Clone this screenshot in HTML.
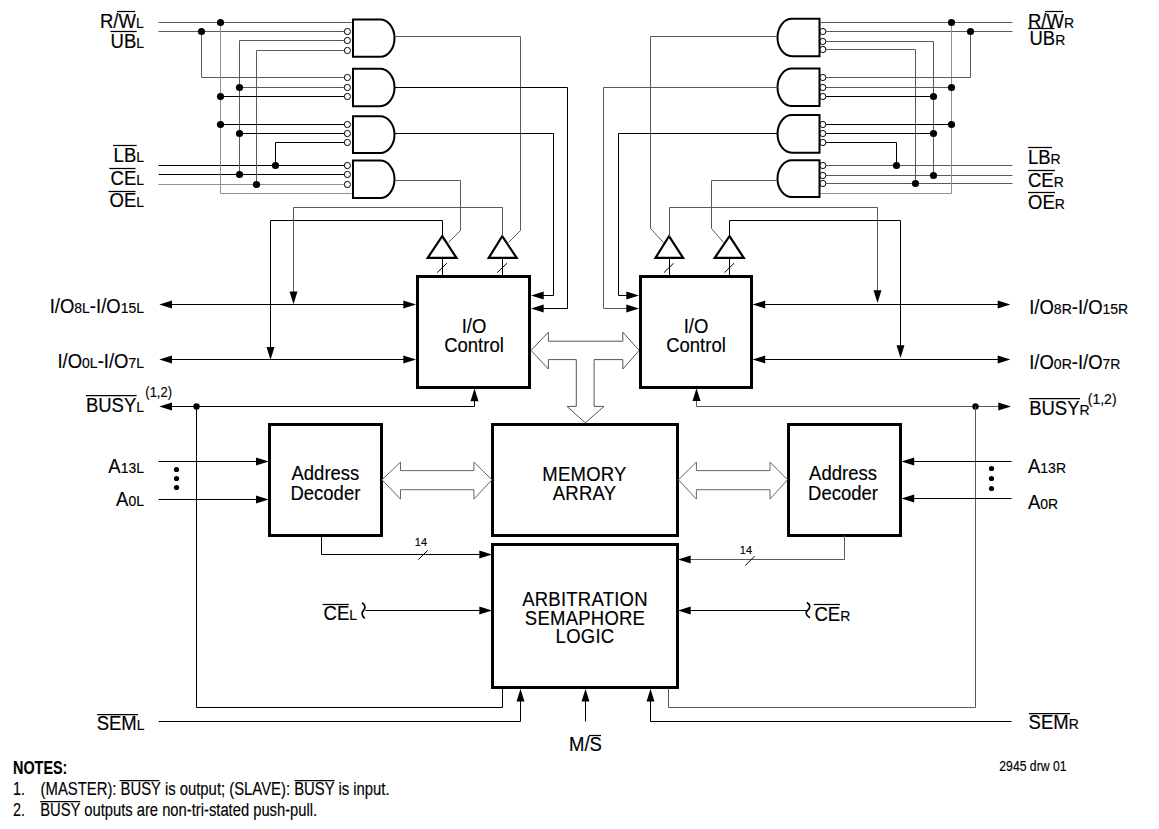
<!DOCTYPE html>
<html><head><meta charset="utf-8"><style>
html,body{margin:0;padding:0;background:#fff;}
svg{display:block;}
text{font-family:"Liberation Sans",sans-serif;fill:#000;stroke:#000;stroke-width:0.15px;}
</style></head><body>
<svg width="1159" height="829" viewBox="0 0 1159 829" stroke="#000" fill="none">
<rect x="0" y="0" width="1159" height="829" fill="#fff" stroke="none"/>
<line x1="158.5" y1="22.5" x2="351.5" y2="22.5" stroke-width="1" stroke="#5a5a5a"/>
<line x1="158.5" y1="31.5" x2="344.5" y2="31.5" stroke-width="1" stroke="#5a5a5a"/>
<line x1="158.5" y1="165.5" x2="344.5" y2="165.5" stroke-width="1"/>
<line x1="158.5" y1="174.5" x2="344.5" y2="174.5" stroke-width="1"/>
<line x1="158.5" y1="184.5" x2="344.5" y2="184.5" stroke-width="1" stroke="#909090"/>
<polyline points="201.5,31.5 201.5,77.5 344.5,77.5" fill="none" stroke-width="1" stroke="#5a5a5a"/>
<polyline points="220.5,22.5 220.5,193.5 351.5,193.5" fill="none" stroke-width="1" stroke="#909090"/>
<polyline points="344.5,40.5 239.5,40.5 239.5,174.5" fill="none" stroke-width="1" stroke="#5a5a5a"/>
<polyline points="344.5,50.5 256.5,50.5 256.5,184.5" fill="none" stroke-width="1" stroke="#5a5a5a"/>
<polyline points="344.5,142.5 275.5,142.5 275.5,165.5" fill="none" stroke-width="1"/>
<line x1="239.5" y1="87.5" x2="344.5" y2="87.5" stroke-width="1" stroke="#5a5a5a"/>
<line x1="220.5" y1="96.5" x2="344.5" y2="96.5" stroke-width="1"/>
<line x1="220.5" y1="124.5" x2="344.5" y2="124.5" stroke-width="1"/>
<line x1="239.5" y1="133.5" x2="344.5" y2="133.5" stroke-width="1"/>
<circle cx="220.5" cy="22.5" r="3.6" fill="#000" stroke="none"/>
<circle cx="201.5" cy="31.5" r="3.6" fill="#000" stroke="none"/>
<circle cx="239.5" cy="87.5" r="3.6" fill="#000" stroke="none"/>
<circle cx="220.5" cy="96.5" r="3.6" fill="#000" stroke="none"/>
<circle cx="220.5" cy="124.5" r="3.6" fill="#000" stroke="none"/>
<circle cx="239.5" cy="133.5" r="3.6" fill="#000" stroke="none"/>
<circle cx="275.5" cy="165.5" r="3.6" fill="#000" stroke="none"/>
<circle cx="239.5" cy="174.5" r="3.6" fill="#000" stroke="none"/>
<circle cx="256.5" cy="184.5" r="3.6" fill="#000" stroke="none"/>
<circle cx="347.4" cy="31.5" r="3.1" fill="#fff" stroke-width="1"/>
<circle cx="347.4" cy="40.5" r="3.1" fill="#fff" stroke-width="1"/>
<circle cx="347.4" cy="50.5" r="3.1" fill="#fff" stroke-width="1"/>
<circle cx="347.4" cy="77.5" r="3.1" fill="#fff" stroke-width="1"/>
<circle cx="347.4" cy="87.5" r="3.1" fill="#fff" stroke-width="1"/>
<circle cx="347.4" cy="96.5" r="3.1" fill="#fff" stroke-width="1"/>
<circle cx="347.4" cy="124.5" r="3.1" fill="#fff" stroke-width="1"/>
<circle cx="347.4" cy="133.5" r="3.1" fill="#fff" stroke-width="1"/>
<circle cx="347.4" cy="142.5" r="3.1" fill="#fff" stroke-width="1"/>
<circle cx="347.4" cy="165.5" r="3.1" fill="#fff" stroke-width="1"/>
<circle cx="347.4" cy="174.5" r="3.1" fill="#fff" stroke-width="1"/>
<circle cx="347.4" cy="184.5" r="3.1" fill="#fff" stroke-width="1"/>
<path d="M353,19.5 H380.1 A14.4,18.65 0 0 1 380.1,56.8 H353 Z" fill="#fff" stroke-width="2"/>
<path d="M353,68.7 H380.1 A14.4,18.75 0 0 1 380.1,106.2 H353 Z" fill="#fff" stroke-width="2"/>
<path d="M353,116.3 H380.1 A14.4,18.35 0 0 1 380.1,153 H353 Z" fill="#fff" stroke-width="2"/>
<path d="M353,160.6 H380.1 A14.4,18.75 0 0 1 380.1,198.1 H353 Z" fill="#fff" stroke-width="2"/>
<polyline points="394.5,36.5 520.5,36.5 520.5,230.5 508.5,242.5" fill="none" stroke-width="1" stroke="#5a5a5a"/>
<polyline points="394.5,87.5 567.5,87.5 567.5,308.5 540.5,308.5" fill="none" stroke-width="1"/>
<polygon points="531.00,308.50 543.70,304.50 543.70,312.50" fill="#000" stroke="none"/>
<polyline points="394.5,133.5 553.5,133.5 553.5,295.5 540.5,295.5" fill="none" stroke-width="1"/>
<polygon points="531.00,295.50 543.70,291.50 543.70,299.50" fill="#000" stroke="none"/>
<polyline points="394.5,180.5 460.5,180.5 460.5,230.5 448.5,242.5" fill="none" stroke-width="1" stroke="#5a5a5a"/>
<polygon points="442.2,236.2 456.5,257.9 427.7,257.9" fill="#fff" stroke-width="2.2"/>
<polygon points="502.2,236.2 516.7,257.9 488.7,257.9" fill="#fff" stroke-width="2.2"/>
<polyline points="442.5,236.5 442.5,220.5 270.5,220.5 270.5,350.5" fill="none" stroke-width="1"/>
<polygon points="270.50,359.70 266.50,347.00 274.50,347.00" fill="#000" stroke="none"/>
<polyline points="502.5,236.5 502.5,207.5 293.5,207.5 293.5,295.5" fill="none" stroke-width="1" stroke="#5a5a5a"/>
<polygon points="293.50,304.30 289.50,291.60 297.50,291.60" fill="#000" stroke="none"/>
<line x1="442.5" y1="258.5" x2="442.5" y2="276.5" stroke-width="1"/>
<line x1="502.5" y1="258.5" x2="502.5" y2="276.5" stroke-width="1"/>
<line x1="437.2" y1="272.6" x2="446.8" y2="263.2" stroke-width="1"/>
<line x1="497.2" y1="272.6" x2="507.1" y2="263.2" stroke-width="1"/>
<rect x="417.5" y="276.5" width="112.0" height="111.0" fill="none" stroke-width="3"/>
<text transform="translate(474,333.4) scale(1,1.075)" x="0" y="0" font-size="18.5" text-anchor="middle"  >I/O</text>
<text transform="translate(474,352) scale(1,1.075)" x="0" y="0" font-size="18.5" text-anchor="middle"  >Control</text>
<line x1="165.5" y1="304.5" x2="410.5" y2="304.5" stroke-width="1"/>
<polygon points="159.30,304.50 172.00,300.50 172.00,308.50" fill="#000" stroke="none"/>
<polygon points="416.00,304.50 403.30,300.50 403.30,308.50" fill="#000" stroke="none"/>
<line x1="165.5" y1="359.5" x2="410.5" y2="359.5" stroke-width="1"/>
<polygon points="159.30,359.50 172.00,355.50 172.00,363.50" fill="#000" stroke="none"/>
<polygon points="416.00,359.50 403.30,355.50 403.30,363.50" fill="#000" stroke="none"/>
<polyline points="165.5,406.5 474.5,406.5 474.5,395.5" fill="none" stroke-width="1"/>
<polygon points="159.30,406.50 172.00,402.50 172.00,410.50" fill="#000" stroke="none"/>
<polygon points="474.50,388.50 470.50,401.20 478.50,401.20" fill="#000" stroke="none"/>
<circle cx="196.5" cy="406.5" r="3.2" fill="#000" stroke="none"/>
<polyline points="196.5,406.5 196.5,707.5 502.5,707.5 502.5,688.5" fill="none" stroke-width="1"/>
<text transform="translate(100,27.8) scale(1,1.075)" x="0" y="0" font-size="18.5" text-anchor="start"  >R/W<tspan font-size="14">L</tspan></text>
<line x1="117" y1="11.5" x2="135.2" y2="11.5" stroke-width="1.25"/>
<text transform="translate(144,47.9) scale(1,1.075)" x="0" y="0" font-size="18.5" text-anchor="end"  >UB<tspan font-size="14">L</tspan></text>
<line x1="110.4" y1="31.5" x2="136.7" y2="31.5" stroke-width="1.25"/>
<text transform="translate(144,161.5) scale(1,1.075)" x="0" y="0" font-size="18.5" text-anchor="end"  >LB<tspan font-size="14">L</tspan></text>
<line x1="113.1" y1="145.5" x2="136.7" y2="145.5" stroke-width="1.25"/>
<text transform="translate(144,184.7) scale(1,1.075)" x="0" y="0" font-size="18.5" text-anchor="end"  >CE<tspan font-size="14">L</tspan></text>
<line x1="109.3" y1="168.5" x2="135.5" y2="168.5" stroke-width="1.25"/>
<text transform="translate(144,207.4) scale(1,1.075)" x="0" y="0" font-size="18.5" text-anchor="end"  >OE<tspan font-size="14">L</tspan></text>
<line x1="108.5" y1="191.5" x2="135.5" y2="191.5" stroke-width="1.25"/>
<text transform="translate(144,312.6) scale(1,1.075)" x="0" y="0" font-size="18.5" text-anchor="end"  >I/O<tspan font-size="14">8L</tspan>-I/O<tspan font-size="14">15L</tspan></text>
<text transform="translate(144,368) scale(1,1.075)" x="0" y="0" font-size="18.5" text-anchor="end"  >I/O<tspan font-size="14">0L</tspan>-I/O<tspan font-size="14">7L</tspan></text>
<text transform="translate(144,411.8) scale(1,1.075)" x="0" y="0" font-size="18.5" text-anchor="end"  >BUSY<tspan font-size="14">L</tspan></text>
<line x1="86" y1="395.5" x2="136.7" y2="395.5" stroke-width="1.25"/>
<text transform="translate(145.3,397) scale(1,1.075)" x="0" y="0" font-size="13" text-anchor="start"  >(1,2)</text>
<polygon points="531,350.4 548.4,332.2 548.4,341.2 622.8,341.2 622.8,332.2 639.2,350.4 622.8,369 622.8,359.6 594.1,359.6 594.1,406.4 604,406.4 585.3,422.8 567,406.4 576.3,406.4 576.3,359.6 548.4,359.6 548.4,369" fill="#fff" stroke-width="1" stroke="#555"/>
<rect x="492.5" y="424.5" width="185.0" height="111.0" fill="none" stroke-width="3"/>
<text transform="translate(584.5,480.6) scale(1,1.075)" x="0" y="0" font-size="18.5" text-anchor="middle" letter-spacing="0.25" >MEMORY</text>
<text transform="translate(584.5,499.7) scale(1,1.075)" x="0" y="0" font-size="18.5" text-anchor="middle" letter-spacing="0.25" >ARRAY</text>
<rect x="492.5" y="544.5" width="185.0" height="143.0" fill="none" stroke-width="3"/>
<text transform="translate(585,605.5) scale(1,1.075)" x="0" y="0" font-size="18.5" text-anchor="middle" letter-spacing="0.25" >ARBITRATION</text>
<text transform="translate(585,624.8) scale(1,1.075)" x="0" y="0" font-size="18.5" text-anchor="middle" letter-spacing="0.25" >SEMAPHORE</text>
<text transform="translate(585,643.3) scale(1,1.075)" x="0" y="0" font-size="18.5" text-anchor="middle" letter-spacing="0.25" >LOGIC</text>
<rect x="269.5" y="424.5" width="112.0" height="111.0" fill="none" stroke-width="3"/>
<text transform="translate(325.4,480.2) scale(1,1.075)" x="0" y="0" font-size="18.5" text-anchor="middle"  >Address</text>
<text transform="translate(325.4,499.5) scale(1,1.075)" x="0" y="0" font-size="18.5" text-anchor="middle"  >Decoder</text>
<rect x="788.5" y="424.5" width="112.0" height="111.0" fill="none" stroke-width="3"/>
<text transform="translate(843,480.2) scale(1,1.075)" x="0" y="0" font-size="18.5" text-anchor="middle"  >Address</text>
<text transform="translate(843,499.5) scale(1,1.075)" x="0" y="0" font-size="18.5" text-anchor="middle"  >Decoder</text>
<polygon points="382,479.8 400.5,462.1 400.5,470.6 473.9,470.6 473.9,462.1 491.9,479.8 473.9,499.1 473.9,489.7 400.5,489.7 400.5,499.1" fill="#fff" stroke-width="1" stroke="#666"/>
<polygon points="678.4,479.8 696.4,462.1 696.4,470.6 770,470.6 770,462.1 787.5,479.8 770,499.1 770,489.7 696.4,489.7 696.4,499.1" fill="#fff" stroke-width="1" stroke="#666"/>
<line x1="158.5" y1="461.5" x2="258.5" y2="461.5" stroke-width="1"/>
<polygon points="268.70,461.50 256.00,457.50 256.00,465.50" fill="#000" stroke="none"/>
<line x1="158.5" y1="499.5" x2="258.5" y2="499.5" stroke-width="1"/>
<polygon points="268.70,499.50 256.00,495.50 256.00,503.50" fill="#000" stroke="none"/>
<circle cx="176.5" cy="469.5" r="2.6" fill="#000" stroke="none"/>
<circle cx="176.5" cy="478.5" r="2.6" fill="#000" stroke="none"/>
<circle cx="176.5" cy="487.5" r="2.6" fill="#000" stroke="none"/>
<text transform="translate(144,472.7) scale(1,1.075)" x="0" y="0" font-size="18.5" text-anchor="end"  >A<tspan font-size="14">13L</tspan></text>
<text transform="translate(144,505.6) scale(1,1.075)" x="0" y="0" font-size="18.5" text-anchor="end"  >A<tspan font-size="14">0L</tspan></text>
<polyline points="321.5,535.5 321.5,554.5 482.5,554.5" fill="none" stroke-width="1"/>
<polygon points="492.00,554.50 479.30,550.50 479.30,558.50" fill="#000" stroke="none"/>
<line x1="418.4" y1="559.6" x2="427.7" y2="550.3" stroke-width="1"/>
<text transform="translate(420.9,545.8) scale(1,1.075)" x="0" y="0" font-size="11" text-anchor="middle"  >14</text>
<line x1="365.5" y1="610.5" x2="482.5" y2="610.5" stroke-width="1"/>
<polygon points="492.00,610.50 479.30,606.50 479.30,614.50" fill="#000" stroke="none"/>
<path d="M362.1,602.8 C365.6,604.8 365.6,608.3 363.7,610.2 C361.5,612.3 361.5,616 364.8,618.2" fill="none" stroke-width="1.7"/>
<text transform="translate(357,620.4) scale(1,1.075)" x="0" y="0" font-size="18.5" text-anchor="end"  >CE<tspan font-size="14">L</tspan></text>
<line x1="322.6" y1="604.5" x2="348.8" y2="604.5" stroke-width="1.25"/>
<polyline points="158.5,721.5 520.5,721.5 520.5,700.5" fill="none" stroke-width="1"/>
<polygon points="520.50,688.70 516.50,701.40 524.50,701.40" fill="#000" stroke="none"/>
<text transform="translate(144.5,730) scale(1,1.075)" x="0" y="0" font-size="18.5" text-anchor="end"  >SEM<tspan font-size="14">L</tspan></text>
<line x1="97" y1="714.5" x2="138" y2="714.5" stroke-width="1.25"/>
<line x1="585.5" y1="721.5" x2="585.5" y2="700.5" stroke-width="1"/>
<polygon points="585.50,688.70 581.50,701.40 589.50,701.40" fill="#000" stroke="none"/>
<text transform="translate(585.5,750.6) scale(1,1.075)" x="0" y="0" font-size="18.5" text-anchor="middle"  >M/S</text>
<line x1="589" y1="735.5" x2="601" y2="735.5" stroke-width="1.25"/>
<line x1="1012.5" y1="22.5" x2="820.5" y2="22.5" stroke-width="1" stroke="#5a5a5a"/>
<line x1="1012.5" y1="31.5" x2="825.5" y2="31.5" stroke-width="1" stroke="#5a5a5a"/>
<line x1="1012.5" y1="165.5" x2="825.5" y2="165.5" stroke-width="1" stroke="#5a5a5a"/>
<line x1="1012.5" y1="175.5" x2="825.5" y2="175.5" stroke-width="1" stroke="#5a5a5a"/>
<line x1="1012.5" y1="183.5" x2="825.5" y2="183.5" stroke-width="1" stroke="#5a5a5a"/>
<polyline points="825.5,41.5 933.5,41.5 933.5,175.5" fill="none" stroke-width="1" stroke="#5a5a5a"/>
<polyline points="825.5,49.5 915.5,49.5 915.5,183.5" fill="none" stroke-width="1" stroke="#5a5a5a"/>
<polyline points="951.5,22.5 951.5,193.5 820.5,193.5" fill="none" stroke-width="1" stroke="#909090"/>
<polyline points="970.5,31.5 970.5,77.5 825.5,77.5" fill="none" stroke-width="1" stroke="#5a5a5a"/>
<polyline points="825.5,142.5 896.5,142.5 896.5,165.5" fill="none" stroke-width="1"/>
<line x1="951.5" y1="87.5" x2="825.5" y2="87.5" stroke-width="1" stroke="#5a5a5a"/>
<line x1="933.5" y1="96.5" x2="825.5" y2="96.5" stroke-width="1"/>
<line x1="951.5" y1="124.5" x2="825.5" y2="124.5" stroke-width="1"/>
<line x1="933.5" y1="133.5" x2="825.5" y2="133.5" stroke-width="1"/>
<circle cx="951.5" cy="22.5" r="3.6" fill="#000" stroke="none"/>
<circle cx="970.5" cy="31.5" r="3.6" fill="#000" stroke="none"/>
<circle cx="951.5" cy="87.5" r="3.6" fill="#000" stroke="none"/>
<circle cx="933.5" cy="96.5" r="3.6" fill="#000" stroke="none"/>
<circle cx="951.5" cy="124.5" r="3.6" fill="#000" stroke="none"/>
<circle cx="933.5" cy="133.5" r="3.6" fill="#000" stroke="none"/>
<circle cx="896.5" cy="165.5" r="3.6" fill="#000" stroke="none"/>
<circle cx="933.5" cy="175.5" r="3.6" fill="#000" stroke="none"/>
<circle cx="915.5" cy="183.5" r="3.6" fill="#000" stroke="none"/>
<circle cx="822.8" cy="31.5" r="3.1" fill="#fff" stroke-width="1"/>
<circle cx="822.8" cy="41.5" r="3.1" fill="#fff" stroke-width="1"/>
<circle cx="822.8" cy="49.5" r="3.1" fill="#fff" stroke-width="1"/>
<circle cx="822.8" cy="77.5" r="3.1" fill="#fff" stroke-width="1"/>
<circle cx="822.8" cy="87.5" r="3.1" fill="#fff" stroke-width="1"/>
<circle cx="822.8" cy="96.5" r="3.1" fill="#fff" stroke-width="1"/>
<circle cx="822.8" cy="124.5" r="3.1" fill="#fff" stroke-width="1"/>
<circle cx="822.8" cy="133.5" r="3.1" fill="#fff" stroke-width="1"/>
<circle cx="822.8" cy="142.5" r="3.1" fill="#fff" stroke-width="1"/>
<circle cx="822.8" cy="165.5" r="3.1" fill="#fff" stroke-width="1"/>
<circle cx="822.8" cy="175.5" r="3.1" fill="#fff" stroke-width="1"/>
<circle cx="822.8" cy="183.5" r="3.1" fill="#fff" stroke-width="1"/>
<path d="M819.5,18.8 H791.9 A14.4,18.700000000000003 0 0 0 791.9,56.2 H819.5 Z" fill="#fff" stroke-width="2"/>
<path d="M819.5,68.6 H791.9 A14.4,18.75 0 0 0 791.9,106.1 H819.5 Z" fill="#fff" stroke-width="2"/>
<path d="M819.5,115 H791.9 A14.4,18.849999999999994 0 0 0 791.9,152.7 H819.5 Z" fill="#fff" stroke-width="2"/>
<path d="M819.5,160.3 H791.9 A14.4,18.349999999999994 0 0 0 791.9,197 H819.5 Z" fill="#fff" stroke-width="2"/>
<polyline points="777.5,36.5 650.5,36.5 650.5,228.5 663.5,242.5" fill="none" stroke-width="1" stroke="#5a5a5a"/>
<polyline points="777.5,87.5 603.5,87.5 603.5,308.5 630.5,308.5" fill="none" stroke-width="1" stroke="#5a5a5a"/>
<polygon points="639.00,308.50 626.30,304.50 626.30,312.50" fill="#000" stroke="none"/>
<polyline points="777.5,133.5 618.5,133.5 618.5,295.5 630.5,295.5" fill="none" stroke-width="1"/>
<polygon points="639.00,295.50 626.30,291.50 626.30,299.50" fill="#000" stroke="none"/>
<polyline points="777.5,180.5 711.5,180.5 711.5,228.5 723.5,242.5" fill="none" stroke-width="1" stroke="#5a5a5a"/>
<polygon points="669,236.2 683.1,257.9 655.5,257.9" fill="#fff" stroke-width="2.2"/>
<polygon points="729.5,236.2 743.8,257.9 714.7,257.9" fill="#fff" stroke-width="2.2"/>
<polyline points="669.5,236.5 669.5,207.5 877.5,207.5 877.5,293.5" fill="none" stroke-width="1" stroke="#5a5a5a"/>
<polygon points="877.50,303.00 873.50,290.30 881.50,290.30" fill="#000" stroke="none"/>
<polyline points="729.5,236.5 729.5,220.5 900.5,220.5 900.5,348.5" fill="none" stroke-width="1"/>
<polygon points="900.50,358.00 896.50,345.30 904.50,345.30" fill="#000" stroke="none"/>
<line x1="669.5" y1="258.5" x2="669.5" y2="276.5" stroke-width="1"/>
<line x1="729.5" y1="258.5" x2="729.5" y2="276.5" stroke-width="1"/>
<line x1="664" y1="272.6" x2="673.6" y2="263.2" stroke-width="1"/>
<line x1="724.5" y1="272.6" x2="734.1" y2="263.2" stroke-width="1"/>
<rect x="640.5" y="276.5" width="111.0" height="111.0" fill="none" stroke-width="3"/>
<text transform="translate(696,333.4) scale(1,1.075)" x="0" y="0" font-size="18.5" text-anchor="middle"  >I/O</text>
<text transform="translate(696,352) scale(1,1.075)" x="0" y="0" font-size="18.5" text-anchor="middle"  >Control</text>
<line x1="762.5" y1="304.5" x2="1000.5" y2="304.5" stroke-width="1"/>
<polygon points="752.50,304.50 765.20,300.50 765.20,308.50" fill="#000" stroke="none"/>
<polygon points="1010.40,304.50 997.70,300.50 997.70,308.50" fill="#000" stroke="none"/>
<line x1="762.5" y1="359.5" x2="1000.5" y2="359.5" stroke-width="1"/>
<polygon points="752.50,359.50 765.20,355.50 765.20,363.50" fill="#000" stroke="none"/>
<polygon points="1010.40,359.50 997.70,355.50 997.70,363.50" fill="#000" stroke="none"/>
<polyline points="696.5,395.5 696.5,406.5 1000.5,406.5" fill="none" stroke-width="1" stroke="#5a5a5a"/>
<polygon points="696.50,388.30 692.50,401.00 700.50,401.00" fill="#000" stroke="none"/>
<polygon points="1011.00,406.50 998.30,402.50 998.30,410.50" fill="#000" stroke="none"/>
<circle cx="975.5" cy="406.5" r="3.2" fill="#000" stroke="none"/>
<polyline points="975.5,406.5 975.5,707.5 668.5,707.5 668.5,688.5" fill="none" stroke-width="1" stroke="#5a5a5a"/>
<line x1="1011.5" y1="461.5" x2="911.5" y2="461.5" stroke-width="1"/>
<polygon points="901.50,461.50 914.20,457.50 914.20,465.50" fill="#000" stroke="none"/>
<line x1="1011.5" y1="498.5" x2="911.5" y2="498.5" stroke-width="1"/>
<polygon points="901.50,498.50 914.20,494.50 914.20,502.50" fill="#000" stroke="none"/>
<circle cx="991.5" cy="468.5" r="2.6" fill="#000" stroke="none"/>
<circle cx="991.5" cy="478.5" r="2.6" fill="#000" stroke="none"/>
<circle cx="991.5" cy="488.5" r="2.6" fill="#000" stroke="none"/>
<text transform="translate(1028,473) scale(1,1.075)" x="0" y="0" font-size="18.5" text-anchor="start"  >A<tspan font-size="14">13R</tspan></text>
<text transform="translate(1028,509) scale(1,1.075)" x="0" y="0" font-size="18.5" text-anchor="start"  >A<tspan font-size="14">0R</tspan></text>
<polyline points="844.5,535.5 844.5,559.5 688.5,559.5" fill="none" stroke-width="1" stroke="#5a5a5a"/>
<polygon points="678.00,559.50 690.70,555.50 690.70,563.50" fill="#000" stroke="none"/>
<line x1="745.3" y1="565.6" x2="754.6" y2="556.1" stroke-width="1"/>
<text transform="translate(745.9,553.9) scale(1,1.075)" x="0" y="0" font-size="11" text-anchor="middle"  >14</text>
<line x1="807.5" y1="610.5" x2="688.5" y2="610.5" stroke-width="1"/>
<polygon points="678.00,610.50 690.70,606.50 690.70,614.50" fill="#000" stroke="none"/>
<path d="M806.9,602.5 C810.6,604.5 810.6,608.5 807.4,610.5 C805.5,612 805.5,615.5 810,617.8" fill="none" stroke-width="1.7"/>
<text transform="translate(814.5,620.6) scale(1,1.075)" x="0" y="0" font-size="18.5" text-anchor="start"  >CE<tspan font-size="14">R</tspan></text>
<line x1="813.9" y1="604.5" x2="840" y2="604.5" stroke-width="1.25"/>
<polyline points="1011.5,721.5 650.5,721.5 650.5,700.5" fill="none" stroke-width="1"/>
<polygon points="650.50,688.70 646.50,701.40 654.50,701.40" fill="#000" stroke="none"/>
<text transform="translate(1028.6,729.2) scale(1,1.075)" x="0" y="0" font-size="18.5" text-anchor="start"  >SEM<tspan font-size="14">R</tspan></text>
<line x1="1029" y1="713.5" x2="1070" y2="713.5" stroke-width="1.25"/>
<text transform="translate(1028,27.8) scale(1,1.075)" x="0" y="0" font-size="18.5" text-anchor="start"  >R/W<tspan font-size="14">R</tspan></text>
<line x1="1045" y1="11.5" x2="1063" y2="11.5" stroke-width="1.25"/>
<line x1="1028" y1="28.5" x2="1054.6" y2="28.5" stroke-width="1.25"/>
<text transform="translate(1029.5,44.6) scale(1,1.075)" x="0" y="0" font-size="18.5" text-anchor="start"  >UB<tspan font-size="14">R</tspan></text>
<text transform="translate(1028,163.5) scale(1,1.075)" x="0" y="0" font-size="18.5" text-anchor="start"  >LB<tspan font-size="14">R</tspan></text>
<line x1="1028" y1="147.5" x2="1052" y2="147.5" stroke-width="1.25"/>
<text transform="translate(1028,186.5) scale(1,1.075)" x="0" y="0" font-size="18.5" text-anchor="start"  >CE<tspan font-size="14">R</tspan></text>
<line x1="1028" y1="170.5" x2="1055" y2="170.5" stroke-width="1.25"/>
<text transform="translate(1028,208.5) scale(1,1.075)" x="0" y="0" font-size="18.5" text-anchor="start"  >OE<tspan font-size="14">R</tspan></text>
<line x1="1028" y1="192.5" x2="1055" y2="192.5" stroke-width="1.25"/>
<text transform="translate(1029.2,314.1) scale(1,1.075)" x="0" y="0" font-size="18.5" text-anchor="start"  >I/O<tspan font-size="14">8R</tspan>-I/O<tspan font-size="14">15R</tspan></text>
<text transform="translate(1029.2,369.4) scale(1,1.075)" x="0" y="0" font-size="18.5" text-anchor="start"  >I/O<tspan font-size="14">0R</tspan>-I/O<tspan font-size="14">7R</tspan></text>
<text transform="translate(1029.2,414.6) scale(1,1.075)" x="0" y="0" font-size="18.5" text-anchor="start"  >BUSY<tspan font-size="14">R</tspan></text>
<line x1="1029.2" y1="398.5" x2="1080" y2="398.5" stroke-width="1.25"/>
<text transform="translate(1087.8,404) scale(1,1.075)" x="0" y="0" font-size="14" text-anchor="start"  >(1,2)</text>
<text transform="translate(13,773.6) scale(1,1.0)" x="0" y="0" font-size="18" text-anchor="start"  font-weight="bold" textLength="54.4" lengthAdjust="spacingAndGlyphs">NOTES:</text>
<text transform="translate(13,795) scale(1,1.0)" x="0" y="0" font-size="18" text-anchor="start"  textLength="12" lengthAdjust="spacingAndGlyphs">1.</text>
<text transform="translate(40.6,795) scale(1,1.0)" x="0" y="0" font-size="18" text-anchor="start"  textLength="349" lengthAdjust="spacingAndGlyphs">(MASTER): BUSY is output; (SLAVE): BUSY is input.</text>
<line x1="119.6" y1="780.5" x2="159.3" y2="780.5" stroke-width="1.25"/>
<line x1="294.6" y1="780.5" x2="334.6" y2="780.5" stroke-width="1.25"/>
<text transform="translate(13,815.7) scale(1,1.0)" x="0" y="0" font-size="18" text-anchor="start"  textLength="12" lengthAdjust="spacingAndGlyphs">2.</text>
<text transform="translate(40.2,815.7) scale(1,1.0)" x="0" y="0" font-size="18" text-anchor="start"  textLength="277" lengthAdjust="spacingAndGlyphs">BUSY outputs are non-tri-stated push-pull.</text>
<line x1="40.2" y1="801.5" x2="80.2" y2="801.5" stroke-width="1.25"/>
<text transform="translate(999.3,770.8) scale(1,1.0)" x="0" y="0" font-size="14" text-anchor="start"  textLength="67.2" lengthAdjust="spacingAndGlyphs">2945 drw 01</text>
</svg>
</body></html>
